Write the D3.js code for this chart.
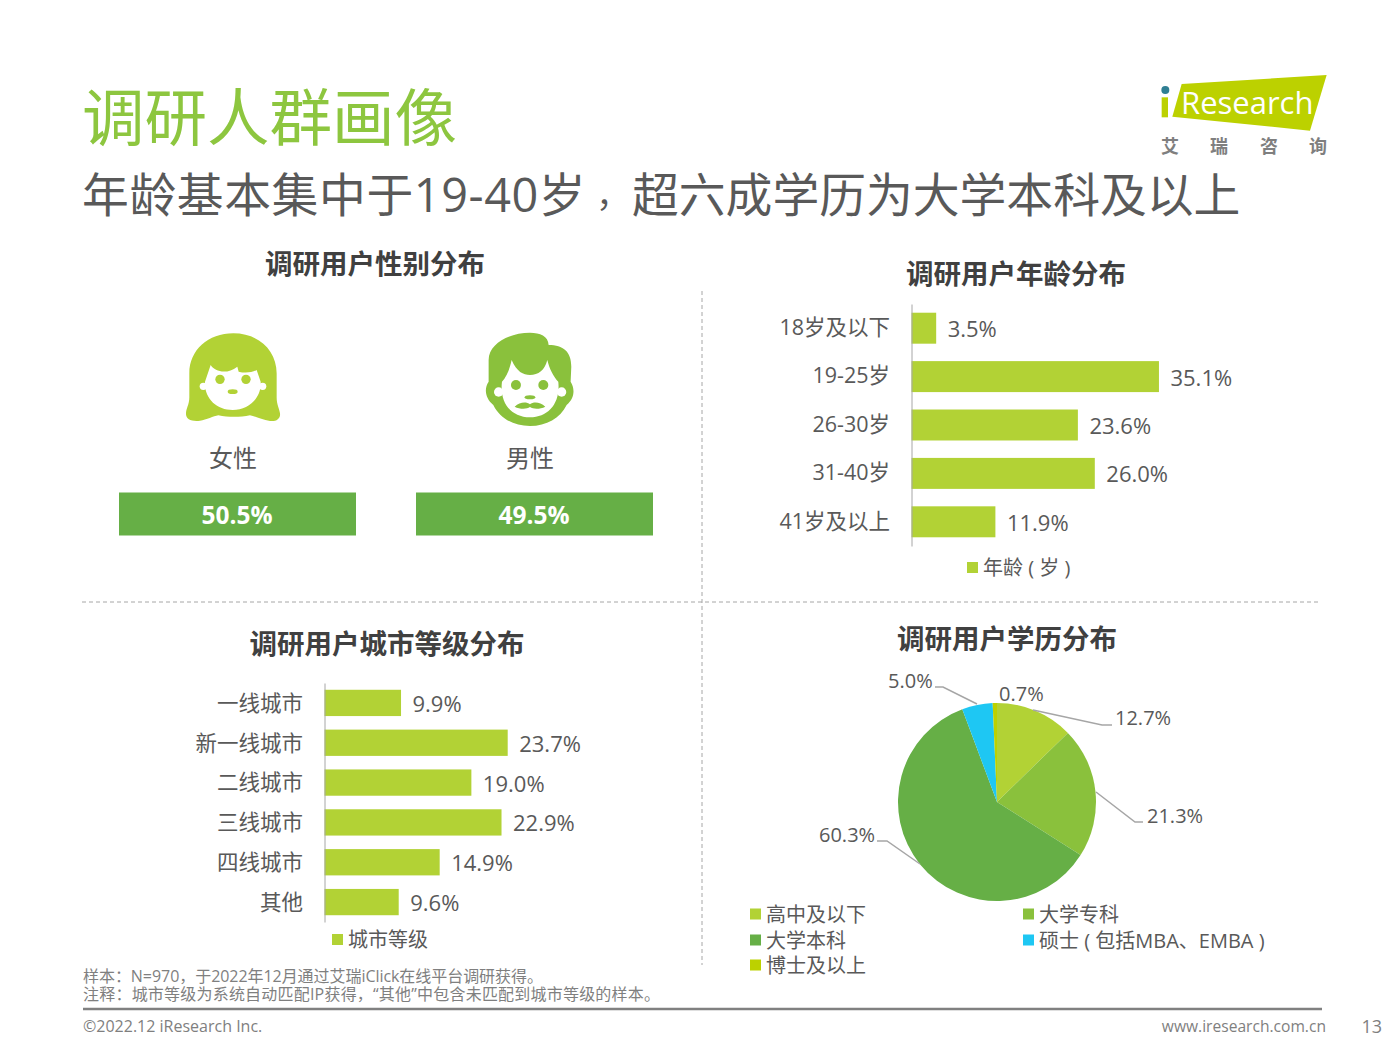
<!DOCTYPE html>
<html>
<head>
<meta charset="utf-8">
<script src="https://cdn.jsdelivr.net/npm/d3@7"></script>
<style>
body{margin:0;background:#fff}
svg{display:block}
text{font-family:"Open Sans","Noto Sans CJK SC",sans-serif}
</style>
</head>
<body>
<svg width="1400" height="1050"></svg>
<script>
var genderCats = ['女性','男性'];
var genderVals = [50.5,49.5];

var ageCats = ['18岁及以下','19-25岁','26-30岁','31-40岁','41岁及以上'];
var ageVals = [3.5,35.1,23.6,26.0,11.9];

var cityCats = ['一线城市','新一线城市','二线城市','三线城市','四线城市','其他'];
var cityVals = [9.9,23.7,19.0,22.9,14.9,9.6];

var eduCats = ['高中及以下','大学专科','大学本科','硕士 ( 包括MBA、EMBA )','博士及以上'];
var eduVals = [12.7,21.3,60.3,5.0,0.7];

var lime = '#b2d235', green = '#8ac13c', dark = '#66af46', blue = '#1ec7f3', olive = '#bcd100';
var eduColors = [lime,green,dark,blue,olive];
var textCol = '#595959';

var svg = d3.select('svg');

function label(x,y,s,size,anchor,color,weight){
  return svg.append('text').attr('x',x).attr('y',y).attr('font-size',size)
    .attr('text-anchor',anchor||'start').attr('dominant-baseline','central')
    .attr('fill',color||textCol).attr('font-weight',weight||400).text(s);
}

// titles
label(82,116,'调研人群画像',62.5,'start','#8dc63f');
var sub = label(82,194,'',46.8);
sub.append('tspan').attr('x',82).attr('letter-spacing',0.6).text('年龄基本集中于19-40岁');
sub.append('tspan').attr('x',596).attr('font-size',34).text('，');
sub.append('tspan').attr('x',632).text('超六成学历为大学本科及以上');
label(375,263.5,'调研用户性别分布',27.5,'middle','#404040',700);
label(1016,273,'调研用户年龄分布',27.5,'middle','#404040',700);
label(387,643,'调研用户城市等级分布',27.5,'middle','#404040',700);
label(1007,638,'调研用户学历分布',27.5,'middle','#404040',700);

// dashed separators
svg.append('line').attr('x1',702).attr('y1',291).attr('x2',702).attr('y2',965)
  .attr('stroke','#a6a6a6').attr('stroke-dasharray','4 3');
svg.append('line').attr('x1',82).attr('y1',602).attr('x2',1320).attr('y2',602)
  .attr('stroke','#a6a6a6').attr('stroke-dasharray','4 3');

// gender icons, drawn in the 3x zoom space
var icons = svg.append('g').attr('transform','translate(150,310) scale(0.3333)');
icons.append('path').attr('fill',lime)
  .attr('d','M250,70C175,70 118,120 118,190L118,262C118,285 108,295 108,312C108,328 125,335 150,332C170,330 190,318 205,316C235,322 270,322 300,316C315,318 335,330 360,333C380,335 392,325 390,310C388,295 380,285 380,262L380,190C380,120 325,70 250,70Z');
icons.append('path').attr('fill','#fff')
  .attr('d','M165,215L182,165C195,185 230,195 262,170L266,185C285,190 305,188 320,180L332,215C335,265 295,300 248,300C200,300 162,265 165,215Z');
icons.append('circle').attr('cx',160).attr('cy',229).attr('r',11).attr('fill','#fff');
icons.append('circle').attr('cx',338).attr('cy',229).attr('r',11).attr('fill','#fff');
icons.append('circle').attr('cx',210).attr('cy',208).attr('r',14).attr('fill',lime);
icons.append('circle').attr('cx',288).attr('cy',208).attr('r',14).attr('fill',lime);
icons.append('ellipse').attr('cx',248).attr('cy',245).attr('rx',15).attr('ry',7).attr('fill',lime);

icons.append('path').attr('fill',green)
  .attr('d','M1140,68C1170,68 1195,78 1196,105C1240,105 1264,125 1264,170L1262,215C1275,235 1275,265 1250,285C1230,325 1190,348 1140,348C1090,348 1050,325 1030,285C1005,265 1002,235 1016,215L1016,150C1016,100 1080,68 1140,68Z');
icons.append('path').attr('fill','#fff')
  .attr('d','M1056,215C1070,200 1080,175 1085,150C1100,185 1120,195 1140,195C1165,195 1185,180 1192,150C1198,175 1210,200 1225,215C1232,280 1195,322 1140,322C1085,322 1048,280 1056,215Z');
icons.append('circle').attr('cx',1046).attr('cy',246).attr('r',14).attr('fill','#fff');
icons.append('circle').attr('cx',1235).attr('cy',246).attr('r',14).attr('fill','#fff');
icons.append('circle').attr('cx',1098).attr('cy',225).attr('r',15).attr('fill',green);
icons.append('circle').attr('cx',1180).attr('cy',225).attr('r',15).attr('fill',green);
icons.append('ellipse').attr('cx',1140).attr('cy',262).attr('rx',16).attr('ry',6).attr('fill',green);
icons.append('path').attr('fill',green)
  .attr('d','M1094,290C1110,275 1130,275 1140,283C1150,275 1170,275 1186,290C1170,298 1150,298 1140,291C1130,298 1110,298 1094,290Z');

// gender blocks
var genderX = d3.scalePoint().domain(genderCats).range([119,416]);
svg.selectAll('.gbar').data(genderCats).enter().append('rect').attr('class','gbar')
  .attr('x',function(d){return genderX(d)}).attr('y',492.5).attr('width',237).attr('height',43).attr('fill',dark);
genderCats.forEach(function(c,i){
  label(genderX(c)+114,457.5,c,24,'middle');
  label(genderX(c)+118,514.5,genderVals[i].toFixed(1)+'%',24.5,'middle','#fff',700);
});

// horizontal bars with a left axis
function hbars(cats,vals,x0,perUnit,top,bottom,barPad,tickShift){
  var y = d3.scaleBand().domain(cats).range([top,bottom]).paddingInner(barPad).paddingOuter(barPad/2);
  var x = d3.scaleLinear().domain([0,40]).range([x0,x0+40*perUnit]);
  svg.selectAll(null).data(vals).enter().append('rect')
    .attr('x',x(0)).attr('y',function(d,i){return y(cats[i])})
    .attr('width',function(d){return x(d)-x(0)}).attr('height',y.bandwidth()).attr('fill',lime);
  var ax = svg.append('g').attr('transform','translate('+x0+',0)')
    .call(d3.axisLeft(y).tickSize(0).tickPadding(21.5).tickSizeOuter(0));
  ax.select('.domain').attr('stroke','#a6a6a6');
  ax.selectAll('text').attr('font-size',21.5).attr('fill',textCol).attr('y',tickShift)
    .style('font-family','"Open Sans","Noto Sans CJK SC",sans-serif');
  vals.forEach(function(v,i){
    label(x(v)+11.5,y(cats[i])+y.bandwidth()/2,v.toFixed(1)+'%',22);
  });
}
hbars(ageCats,ageVals,911.5,7.05,304,546,0.36,0);
hbars(cityCats,cityVals,324.5,7.73,683,922,0.34,1);

function legendItem(x,y,s,color){
  svg.append('rect').attr('x',x).attr('y',y-5.5).attr('width',11).attr('height',11).attr('fill',color);
  label(x+16,y,s,20);
}
legendItem(967,567.5,'年龄 ( 岁 )',lime);
legendItem(332,939.5,'城市等级',lime);

// education pie
var pieG = svg.append('g').attr('transform','translate(997,802)');
var arcs = d3.pie().sort(null)(eduVals);
pieG.selectAll('path').data(arcs).enter().append('path')
  .attr('d',d3.arc().innerRadius(0).outerRadius(99))
  .attr('fill',function(d,i){return eduColors[i]});

var pieLeaders = [
  [[1033,710],[1102,725],[1112,725]],
  [[1096,792],[1135,822],[1143,822]],
  [[920,864],[887,841],[877,841]],
  [[977,704],[943,687],[935,687]]
];
var pieLabelPos = [[1115,717.5],[1147,815.5],[819,834.5],[888,680.5],[999,693.5]];
svg.selectAll('.leader').data(pieLeaders).enter().append('path').attr('class','leader')
  .attr('d',d3.line()).attr('fill','none').attr('stroke','#a6a6a6').attr('stroke-width',1.5);
eduVals.forEach(function(v,i){
  label(pieLabelPos[i][0],pieLabelPos[i][1],v.toFixed(1)+'%',20);
});

var eduLegendPos = [[750,914],[1023,914],[750,940],[1023,940],[750,965]];
eduCats.forEach(function(c,i){
  legendItem(eduLegendPos[i][0],eduLegendPos[i][1],c,eduColors[i]);
});

// logo
var logo = svg.append('g').attr('transform','translate(1140,60) scale(0.3333)');
logo.append('polygon').attr('points','125,72 560,45 510,212 97,170').attr('fill',olive);
logo.append('rect').attr('x',65).attr('y',112).attr('width',19).attr('height',60).attr('fill',olive);
logo.append('circle').attr('cx',76).attr('cy',90).attr('r',12).attr('fill','#2f7f93');
label(1181,102,'Research',31,'start','#fff');
var logoChars = ['艾','瑞','咨','询'], logoX = [1170,1219,1269,1318];
logoChars.forEach(function(c,i){ label(logoX[i],146,c,18,'middle','#7f7f7f',700); });

// footer
label(83,976,'样本：N=970，于2022年12月通过艾瑞iClick在线平台调研获得。',16,'start','#7f7f7f').attr('textLength',460);
label(83,994,'注释：城市等级为系统自动匹配IP获得，“其他”中包含未匹配到城市等级的样本。',16,'start','#7f7f7f').attr('textLength',577);
svg.append('line').attr('x1',83).attr('y1',1009).attr('x2',1322).attr('y2',1009).attr('stroke','#808080').attr('stroke-width',2.5);
label(83,1026,'©2022.12 iResearch Inc.',16,'start','#7f7f7f');
label(1326,1026,'www.iresearch.com.cn',15.6,'end','#7f7f7f');
label(1382,1026,'13',18,'end','#7f7f7f');
</script>
</body>
</html>
